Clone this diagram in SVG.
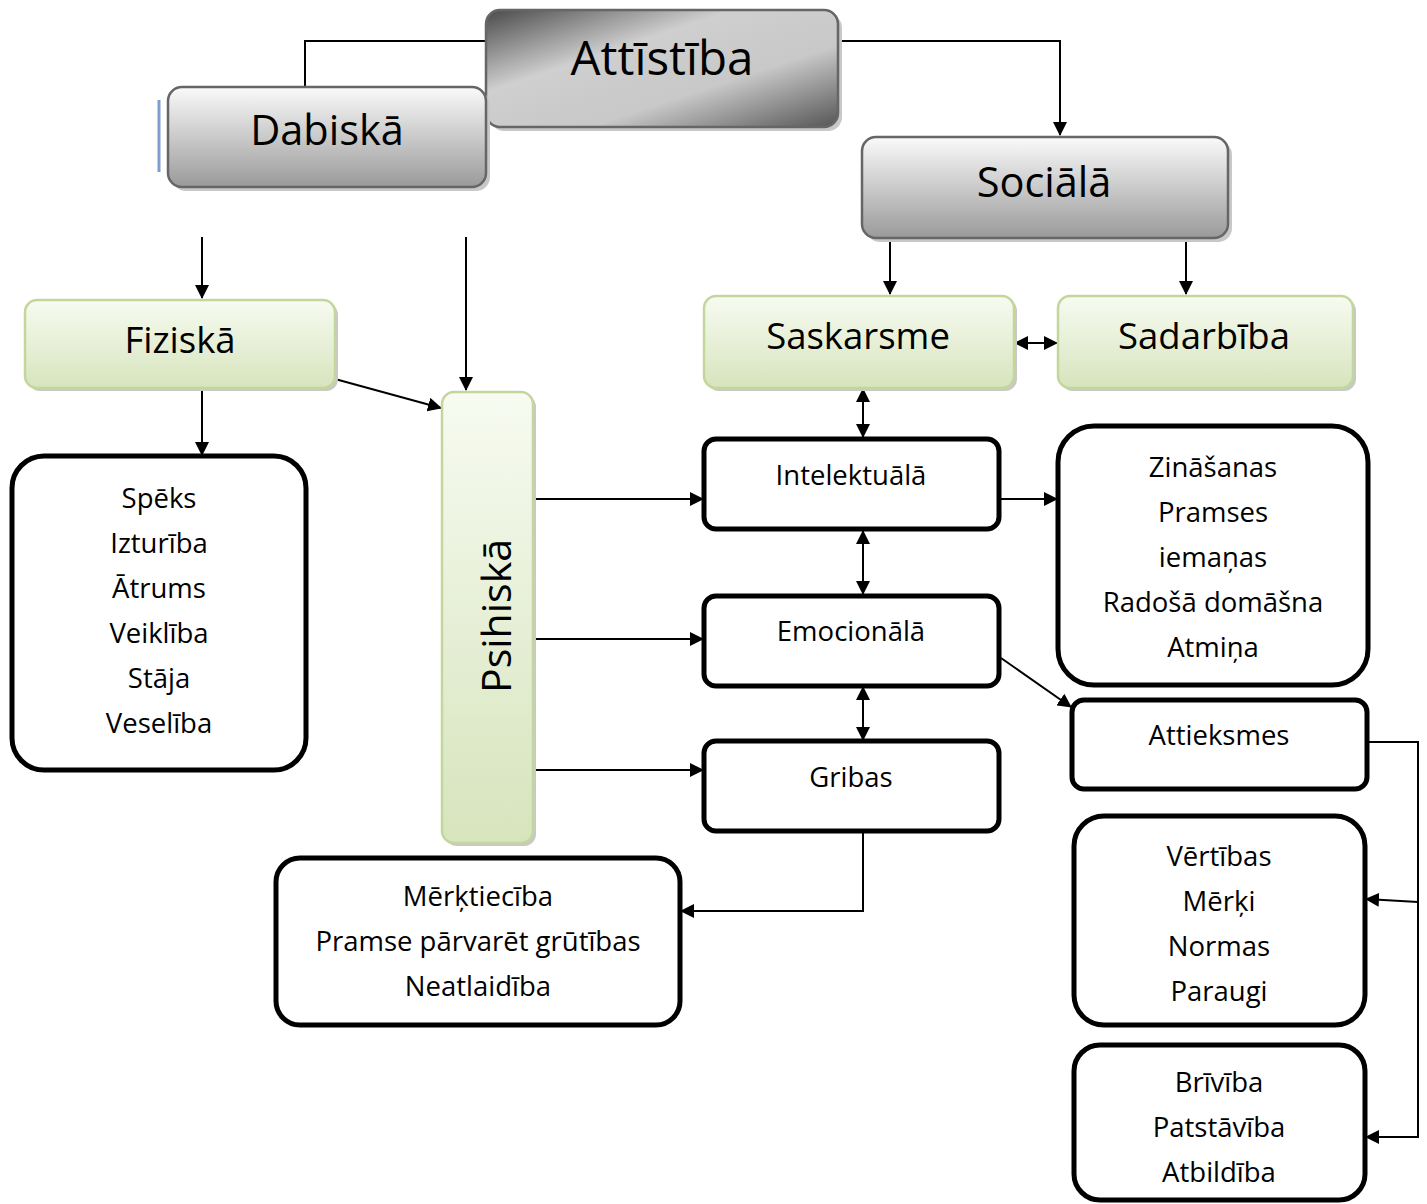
<svg xmlns="http://www.w3.org/2000/svg" width="1427" height="1204" viewBox="0 0 1427 1204">
<defs>
<linearGradient id="gDark" x1="0" y1="0" x2="1" y2="1">
<stop offset="0" stop-color="#4a4a4a"/><stop offset="0.35" stop-color="#cfcfcf"/><stop offset="0.65" stop-color="#c8c8c8"/><stop offset="1" stop-color="#555"/>
</linearGradient>
<linearGradient id="gGrey" x1="0" y1="0" x2="0" y2="1">
<stop offset="0" stop-color="#fafafa"/><stop offset="1" stop-color="#9a9a9a"/>
</linearGradient>
<linearGradient id="gGreen" x1="0" y1="0" x2="0" y2="1">
<stop offset="0" stop-color="#f7fbf1"/><stop offset="1" stop-color="#d7e4bd"/>
</linearGradient>
<marker id="arrS" markerWidth="14" markerHeight="14" refX="13" refY="7" orient="auto-start-reverse" markerUnits="userSpaceOnUse" viewBox="0 0 14 14">
<path d="M0,0 L14,7 L0,14 z" fill="#000"/>
</marker>
</defs>
<style>
text{font-family:"Open Sans","Noto Sans","DejaVu Sans",sans-serif;fill:#000;text-anchor:middle}
.big{font-size:47.5px}
.h1{font-size:41.5px}
.h2{font-size:36.5px}
.ps{font-size:41px}
.t{font-size:27.5px}
.grey{stroke:#666;stroke-width:2.5}
.green{stroke:#c3d69b;stroke-width:2.5;fill:url(#gGreen)}
.shadow{fill:#c8c8c8}
.box{fill:#fff;stroke:#000;stroke-width:5}
.c{fill:none;stroke:#000;stroke-width:2}
</style>

<g id="connectors">
<polyline class="c" points="486,41 305,41 305,87"/>
<polyline class="c" points="838,41 1060,41 1060,135" marker-end="url(#arrS)"/>
<line class="c" x1="890" y1="238" x2="890" y2="294" marker-end="url(#arrS)"/>
<line class="c" x1="1186" y1="238" x2="1186" y2="294" marker-end="url(#arrS)"/>
<line class="c" x1="1015" y1="343" x2="1057" y2="343" marker-start="url(#arrS)" marker-end="url(#arrS)"/>
<line class="c" x1="202" y1="237" x2="202" y2="298" marker-end="url(#arrS)"/>
<line class="c" x1="466" y1="237" x2="466" y2="390" marker-end="url(#arrS)"/>
<line class="c" x1="335" y1="379" x2="441" y2="408" marker-end="url(#arrS)"/>
<line class="c" x1="202" y1="388" x2="202" y2="455" marker-end="url(#arrS)"/>
<line class="c" x1="535" y1="499" x2="703" y2="499" marker-end="url(#arrS)"/>
<line class="c" x1="535" y1="639" x2="703" y2="639" marker-end="url(#arrS)"/>
<line class="c" x1="535" y1="770" x2="703" y2="770" marker-end="url(#arrS)"/>
<line class="c" x1="863" y1="389" x2="863" y2="437" marker-start="url(#arrS)" marker-end="url(#arrS)"/>
<line class="c" x1="863" y1="531" x2="863" y2="594" marker-start="url(#arrS)" marker-end="url(#arrS)"/>
<line class="c" x1="863" y1="687" x2="863" y2="740" marker-start="url(#arrS)" marker-end="url(#arrS)"/>
<line class="c" x1="1001" y1="499" x2="1057" y2="499" marker-end="url(#arrS)"/>
<line class="c" x1="1001" y1="658" x2="1071" y2="707" marker-end="url(#arrS)"/>
<polyline class="c" points="1367,742 1418,742 1418,1137 1366,1137" marker-end="url(#arrS)"/>
<line class="c" x1="1418" y1="902" x2="1366" y2="899" marker-end="url(#arrS)"/>
<polyline class="c" points="863,833 863,911 681,911" marker-end="url(#arrS)"/>
</g>

<g id="attistiba">
<rect x="490" y="14" width="352" height="117" rx="14" class="shadow"/>
<rect x="486" y="10" width="352" height="117" rx="14" fill="url(#gDark)" class="grey"/>
<text class="big" x="662" y="75">Attīstība</text>
</g>

<g id="dabiska">
<line x1="159" y1="100" x2="159" y2="172" stroke="#7f9fd0" stroke-width="3"/>
<rect x="172" y="91" width="318" height="100" rx="14" class="shadow"/>
<rect x="168" y="87" width="318" height="100" rx="14" fill="url(#gGrey)" class="grey"/>
<text class="h1" x="327" y="145">Dabiskā</text>
</g>

<g id="sociala">
<rect x="866" y="141" width="366" height="101" rx="14" class="shadow"/>
<rect x="862" y="137" width="366" height="101" rx="14" fill="url(#gGrey)" class="grey"/>
<text class="h1" x="1044" y="197">Sociālā</text>
</g>

<g id="fiziska">
<rect x="28" y="303" width="310" height="88" rx="12" class="shadow"/>
<rect x="25" y="300" width="310" height="88" rx="12" class="green"/>
<text class="h2" x="180" y="353">Fiziskā</text>
</g>

<g id="saskarsme">
<rect x="707" y="299" width="310" height="92" rx="12" class="shadow"/>
<rect x="704" y="296" width="310" height="92" rx="12" class="green"/>
<text class="h2" x="858" y="349">Saskarsme</text>
</g>

<g id="sadarbiba">
<rect x="1061" y="299" width="295" height="92" rx="12" class="shadow"/>
<rect x="1058" y="296" width="295" height="92" rx="12" class="green"/>
<text class="h2" x="1204" y="349">Sadarbība</text>
</g>

<g id="psihiska">
<rect x="445" y="395" width="91" height="451" rx="12" class="shadow"/>
<rect x="442" y="392" width="91" height="451" rx="12" class="green"/>
<text class="ps" transform="translate(511,616) rotate(-90)" x="0" y="0">Psihiskā</text>
</g>

<g id="fiz-list">
<rect x="12" y="456" width="294" height="314" rx="32" class="box"/>
<text class="t" x="159" y="508">Spēks</text>
<text class="t" x="159" y="553">Izturība</text>
<text class="t" x="159" y="598">Ātrums</text>
<text class="t" x="159" y="643">Veiklība</text>
<text class="t" x="159" y="688">Stāja</text>
<text class="t" x="159" y="733">Veselība</text>
</g>

<g id="intelektuala">
<rect x="704" y="439" width="295" height="90" rx="12" class="box"/>
<text class="t" x="851" y="485">Intelektuālā</text>
</g>

<g id="emocionala">
<rect x="704" y="596" width="295" height="90" rx="12" class="box"/>
<text class="t" x="851" y="641">Emocionālā</text>
</g>

<g id="gribas">
<rect x="704" y="741" width="295" height="90" rx="12" class="box"/>
<text class="t" x="851" y="787">Gribas</text>
</g>

<g id="int-list">
<rect x="1058" y="426" width="310" height="259" rx="36" class="box"/>
<text class="t" x="1213" y="477">Zināšanas</text>
<text class="t" x="1213" y="522">Pramses</text>
<text class="t" x="1213" y="567">iemaņas</text>
<text class="t" x="1213" y="612">Radošā domāšna</text>
<text class="t" x="1213" y="657">Atmiņa</text>
</g>

<g id="attieksmes">
<rect x="1072" y="700" width="295" height="89" rx="12" class="box"/>
<text class="t" x="1219" y="745">Attieksmes</text>
</g>

<g id="vertibas">
<rect x="1074" y="816" width="291" height="209" rx="30" class="box"/>
<text class="t" x="1219" y="866">Vērtības</text>
<text class="t" x="1219" y="911">Mērķi</text>
<text class="t" x="1219" y="956">Normas</text>
<text class="t" x="1219" y="1001">Paraugi</text>
</g>

<g id="brivoba">
<rect x="1074" y="1045" width="291" height="155" rx="26" class="box"/>
<text class="t" x="1219" y="1092">Brīvība</text>
<text class="t" x="1219" y="1137">Patstāvība</text>
<text class="t" x="1219" y="1182">Atbildība</text>
</g>

<g id="gribas-list">
<rect x="276" y="858" width="404" height="167" rx="24" class="box"/>
<text class="t" x="478" y="906">Mērķtiecība</text>
<text class="t" x="478" y="951">Pramse pārvarēt grūtības</text>
<text class="t" x="478" y="996">Neatlaidība</text>
</g>
</svg>
